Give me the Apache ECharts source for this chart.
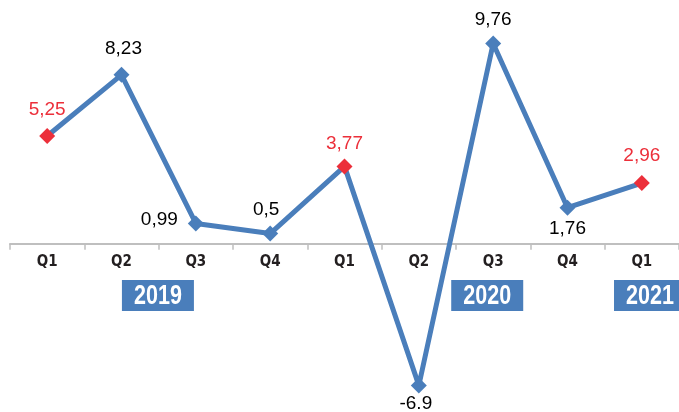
<!DOCTYPE html>
<html>
<head>
<meta charset="utf-8">
<script src="https://cdn.jsdelivr.net/npm/echarts@6/dist/echarts.min.js"></script>
<style>
    html, body { margin: 0; padding: 0; background: #fff; }
    #main { width: 679px; height: 412px; }
</style>
</head>
<body>
<div id="main"></div>
<script>
// data
const quarters = ['Q1', 'Q2', 'Q3', 'Q4', 'Q1', 'Q2', 'Q3', 'Q4', 'Q1']
const growth = [5.25, 8.23, 0.99, 0.5, 3.77, -6.9, 9.76, 1.76, 2.96]
const growthLabels = ['5,25', '8,23', '0,99', '0,5', '3,77', '-6.9', '9,76', '1,76', '2,96']
const highlighted = [true, false, false, false, true, false, false, false, true]
const years = ['2019', '2020', '2021']

// layout
const gridLeft = 10
const gridWidth = 669
const gridTop = 18
const gridHeight = 390
const yMin = -8
const yMax = 11
const yearSlots = [1.99, 6.42, 8.61]
const labelPlaces = [
    ['top', 9, [0, 0]],
    ['top', 9, [2, 0]],
    ['left', 10, [0, -4]],
    ['top', 6, [-4, 0]],
    ['top', 5, [0, 0]],
    ['bottom', 1, [-3, 0]],
    ['top', 6, [0, 0]],
    ['bottom', 4, [0, 0]],
    ['top', 10, [0, 0]],
]

const blue = '#4a7ebb'
const red = '#ec2f3a'

const seriesData = function() {
    return growth.map((v, i) => {
        const p = labelPlaces[i]
        const o = {
            value: v,
            itemStyle: { color: highlighted[i] ? red : blue },
            label: {
                position: p[0],
                distance: p[1],
                offset: p[2],
                color: highlighted[i] ? red : '#000',
                formatter: growthLabels[i],
            },
        }
        return o
    })
}

const yearGraphics = function() {
    const w = gridWidth / quarters.length
    const out = []
    years.forEach((y, i) => {
        const cx = gridLeft + yearSlots[i] * w
        out.push({
            type: 'rect',
            shape: { x: cx - 36, y: 280, width: 72, height: 31 },
            style: { fill: blue },
        })
        out.push({
            type: 'text',
            x: cx,
            y: 296,
            scaleX: 0.77,
            style: {
                text: y,
                fill: '#fff',
                font: 'bold 28px "Liberation Sans", Arial, sans-serif',
                textAlign: 'center',
                textVerticalAlign: 'middle',
            },
        })
    })
    return out
}

// zero line position, so the quarter axis sits on it
const zeroHeight = gridHeight * yMax / (yMax - yMin)

const chart = echarts.init(document.getElementById('main'))
const option = {
    animation: false,
    grid: [
        { left: gridLeft, width: gridWidth, top: gridTop, height: gridHeight, outerBoundsMode: 'none' },
        { left: gridLeft, width: gridWidth, top: gridTop, height: zeroHeight, outerBoundsMode: 'none' },
    ],
    xAxis: [
        {
            type: 'category',
            gridIndex: 0,
            data: quarters,
            show: false,
        },
        {
            type: 'category',
            gridIndex: 1,
            data: quarters,
            boundaryGap: true,
            axisLine: { onZero: false, lineStyle: { color: '#bfbfbf', width: 2 } },
            axisTick: { show: true, length: 6, lineStyle: { color: '#bfbfbf', width: 1.5 } },
            axisLabel: {
                margin: 11,
                color: '#231f20',
                fontSize: 15,
                fontWeight: 'bold',
                fontFamily: '"DejaVu Sans Condensed", sans-serif',
            },
            splitLine: { show: false },
        },
    ],
    yAxis: [
        { type: 'value', gridIndex: 0, min: yMin, max: yMax, show: false },
        { type: 'value', gridIndex: 1, min: 0, max: 1, show: false },
    ],
    series: [
        {
            type: 'line',
            xAxisIndex: 0,
            yAxisIndex: 0,
            data: seriesData(),
            symbol: 'diamond',
            symbolSize: 16,
            lineStyle: { color: blue, width: 5 },
            itemStyle: { color: blue },
            label: {
                show: true,
                fontSize: 19,
                fontFamily: '"Liberation Sans", Arial, sans-serif',
            },
            z: 3,
        },
    ],
    graphic: yearGraphics(),
}
chart.setOption(option)
</script>
</body>
</html>
